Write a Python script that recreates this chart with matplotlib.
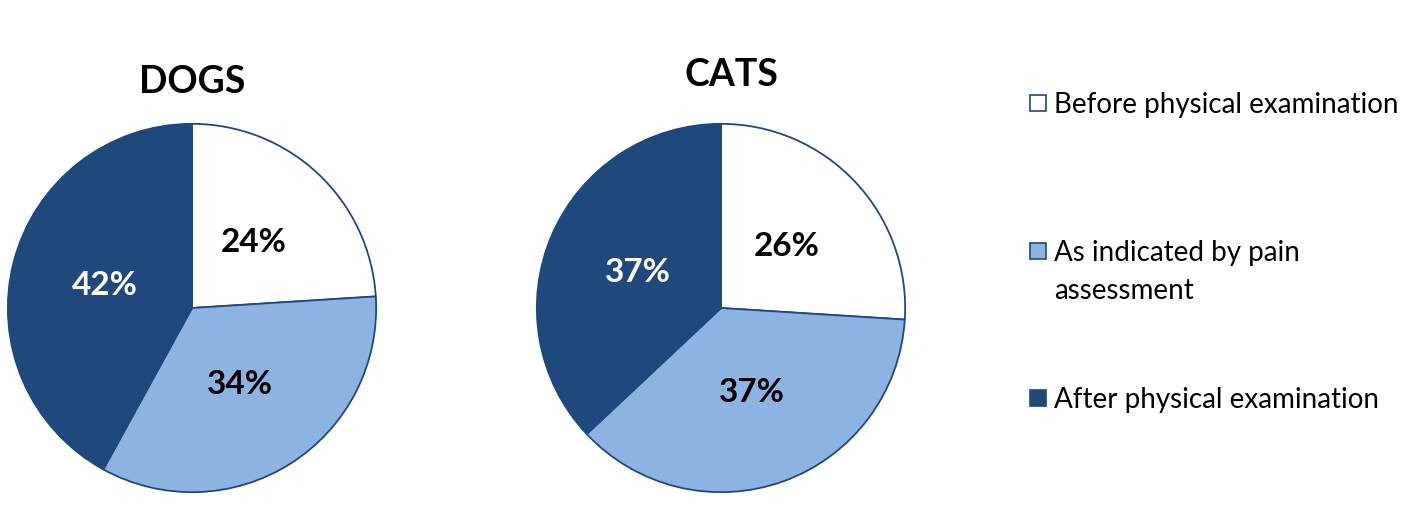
import matplotlib

matplotlib.use("Agg")
import matplotlib.pyplot as plt
from matplotlib.patches import Rectangle

plt.rcParams["font.family"] = ["Lato", "DejaVu Sans"]

categories = ["Before physical examination", "As indicated by pain\nassessment", "After physical examination"]
dogs = [24, 34, 42]
cats = [26, 37, 37]
colors = ["#FFFFFF", "#8DB3E2", "#1F497D"]
label_colors = ["black", "black", "white"]
edge = "#1F497D"

W, H = 1418, 520
fig = plt.figure(figsize=(W / 100, H / 100), dpi=100)


def draw_pie(cx, cy, r, values, title, title_xy):
    ax = fig.add_axes([(cx - r) / W, (H - cy - r) / H, 2 * r / W, 2 * r / H])
    wedges, texts = ax.pie(
        values,
        colors=colors,
        startangle=90,
        counterclock=False,
        labels=[f"{v}%" for v in values],
        labeldistance=0.49,
        wedgeprops={"edgecolor": edge, "linewidth": 1.3},
        textprops={"fontsize": 24, "fontweight": "bold", "ha": "center", "va": "center"},
    )
    for t, c in zip(texts, label_colors):
        t.set_color(c)
    ax.set_xlim(-1.01, 1.01)
    ax.set_ylim(-1.01, 1.01)
    ax.set_aspect("equal")
    fig.text(title_xy[0] / W, 1 - title_xy[1] / H, title, fontsize=27, fontweight="bold",
             ha="center", va="center")


draw_pie(192, 308, 186, dogs, "DOGS", (192, 82))
draw_pie(721, 308, 186, cats, "CATS", (731, 75))

# legend, drawn by hand so the square sits on the first line
legend_y = [103, 251, 398]
sq = 16
for label, color, y in zip(categories, colors, legend_y):
    fig.patches.append(Rectangle(((1030) / W, (H - y - sq / 2) / H), sq / W, sq / H,
                                 facecolor=color, edgecolor=edge, linewidth=1.2,
                                 transform=fig.transFigure))
    fig.text(1054 / W, 1 - (y - 11) / H, label, fontsize=20, ha="left", va="top",
             linespacing=1.55)

fig.savefig("out.png", dpi=100)
